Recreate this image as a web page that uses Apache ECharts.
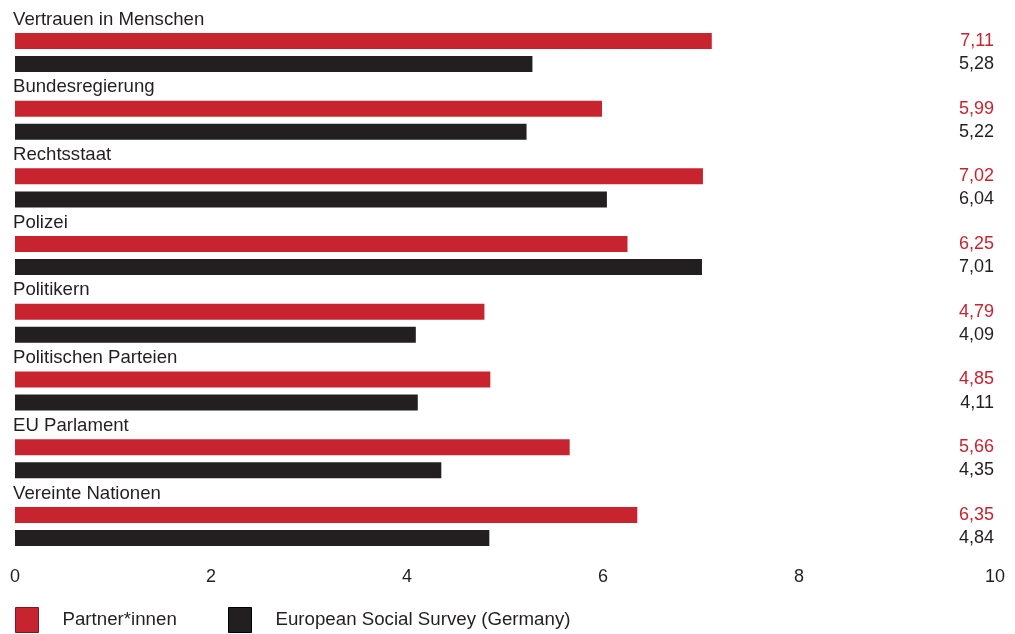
<!DOCTYPE html>
<html>
<head>
<meta charset="utf-8">
<script src="https://cdn.jsdelivr.net/npm/echarts@6/dist/echarts.min.js"></script>
<style>
  html, body { margin: 0; padding: 0; background: #ffffff; }
  #chart { width: 1015px; height: 634px; }
</style>
</head>
<body>
<div id="chart"></div>
<script>
// Trust scores (0–10) per institution
const categories = [
  'Vertrauen in Menschen',
  'Bundesregierung',
  'Rechtsstaat',
  'Polizei',
  'Politikern',
  'Politischen Parteien',
  'EU Parlament',
  'Vereinte Nationen'
];
const partnerValues = [7.11, 5.99, 7.02, 6.25, 4.79, 4.85, 5.66, 6.35];
const essValues = [5.28, 5.22, 6.04, 7.01, 4.09, 4.11, 4.35, 4.84];
const seriesNames = ['Partner*innen', 'European Social Survey (Germany)'];
const axisMin = 0;
const axisMax = 10;
const axisStep = 2;

const RED = '#c8242f';
const DARK = '#231f20';
const FONT = 'Liberation Sans, Arial, sans-serif';

const fmt = v => v.toFixed(2).replace('.', ',');

// Invisible bar filling the rest of the scale, carrying the value label at the right edge
function remainderSeries(stack, values, color) {
  return {
    type: 'bar',
    stack: stack,
    barWidth: 16,
    silent: true,
    data: values.map(v => axisMax - v),
    itemStyle: { color: 'rgba(0,0,0,0)' },
    label: {
      show: true,
      position: 'insideRight',
      distance: 1,
      color: color,
      fontFamily: FONT,
      fontSize: 18,
      formatter: p => fmt(values[p.dataIndex])
    },
    emphasis: { disabled: true }
  };
}

const chart = echarts.init(document.getElementById('chart'), null, { renderer: 'canvas' });

chart.setOption({
  animation: false,
  backgroundColor: '#ffffff',
  grid: {
    left: 15,
    right: 20,
    top: 18.6,
    bottom: 73.7,
    containLabel: false,
    outerBoundsMode: 'none'
  },
  xAxis: {
    type: 'value',
    min: axisMin,
    max: axisMax,
    interval: axisStep,
    axisLine: { show: false },
    axisTick: { show: false },
    splitLine: { show: false },
    axisLabel: {
      margin: 8,
      color: DARK,
      fontFamily: FONT,
      fontSize: 18
    }
  },
  yAxis: {
    type: 'category',
    data: categories,
    inverse: true,
    axisLine: { show: false },
    axisTick: { show: false },
    splitLine: { show: false },
    axisLabel: {
      inside: true,
      interval: 0,
      showMinLabel: true,
      showMaxLabel: true,
      hideOverlap: false,
      margin: -2,
      align: 'left',
      verticalAlign: 'middle',
      // name sits on its own line above the pair of bars; a blank spacer line below lifts it
      formatter: v => '{n|' + v + '}\n{s| }',
      rich: {
        n: { color: DARK, fontFamily: FONT, fontSize: 18.6, lineHeight: 22 },
        s: { fontSize: 10, lineHeight: 66, height: 66 }
      }
    }
  },
  legend: [
    {
      data: [seriesNames[0]],
      left: 15,
      top: 607,
      padding: 0,
      icon: 'rect',
      itemWidth: 23,
      itemHeight: 25,
      selectedMode: false,
      itemStyle: { borderColor: '#7a1a20', borderWidth: 1 },
      textStyle: { color: DARK, fontFamily: FONT, fontSize: 18.7, padding: [0, 0, 0, 19] }
    },
    {
      data: [seriesNames[1]],
      left: 228,
      top: 607,
      padding: 0,
      icon: 'rect',
      itemWidth: 23,
      itemHeight: 25,
      selectedMode: false,
      itemStyle: { borderColor: '#000000', borderWidth: 1 },
      textStyle: { color: DARK, fontFamily: FONT, fontSize: 18.7, padding: [0, 0, 0, 19] }
    }
  ],
  series: [
    {
      name: seriesNames[0],
      type: 'bar',
      stack: 'partner',
      barWidth: 16,
      barGap: '44%',
      data: partnerValues,
      itemStyle: { color: RED },
      emphasis: { disabled: true }
    },
    remainderSeries('partner', partnerValues, RED),
    {
      name: seriesNames[1],
      type: 'bar',
      stack: 'ess',
      barWidth: 16,
      barGap: '44%',
      data: essValues,
      itemStyle: { color: DARK },
      emphasis: { disabled: true }
    },
    remainderSeries('ess', essValues, DARK)
  ]
});
</script>
</body>
</html>
